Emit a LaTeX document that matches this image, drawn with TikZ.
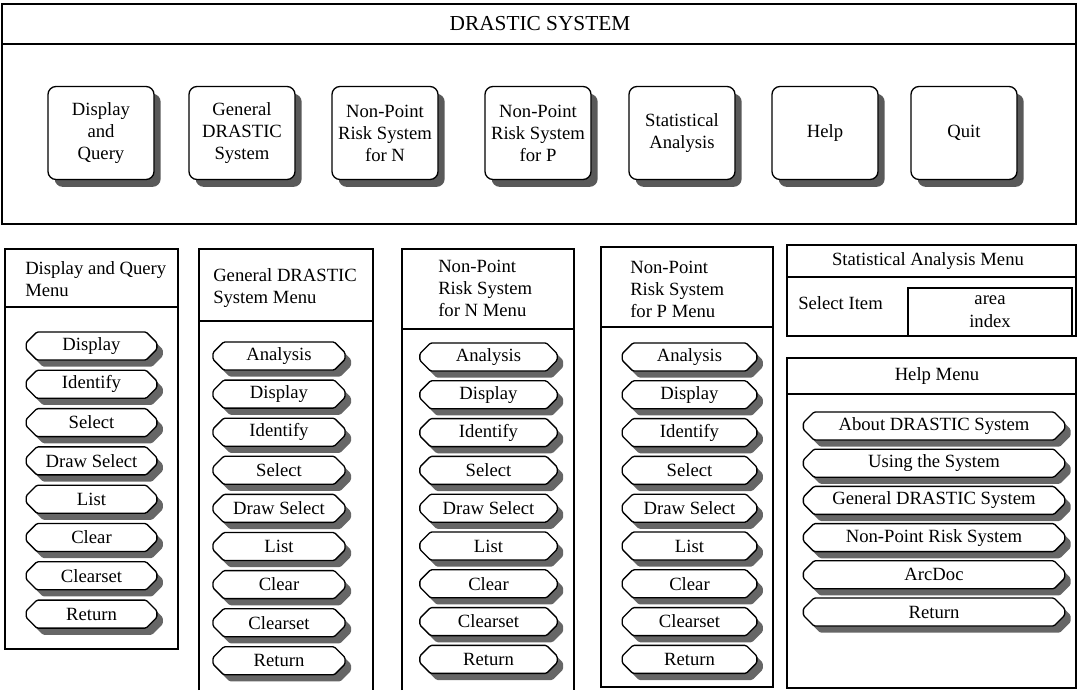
\documentclass[tikz,border=0pt]{standalone}
\usepackage{fontspec}
\setmainfont{Liberation Serif}
\usetikzlibrary{positioning, shapes.misc, shadows}

\tikzset{
  txt/.style={font=\fontsize{14}{16.5}\selectfont},
  mainbtn/.style={txt, draw, fill=white, line width=1pt, rounded corners=6pt,
    minimum width=79.5pt, minimum height=69.75pt, align=center, inner sep=1pt,
    drop shadow={shadow xshift=5pt, shadow yshift=-5.5pt, fill=black!65, opacity=1}},
  itembtn/.style={txt, draw, fill=white, line width=1pt, chamfered rectangle,
    chamfered rectangle xsep=4pt, chamfered rectangle ysep=4pt, rounded corners=1pt,
    minimum height=21pt, inner sep=0pt,
    drop shadow={shadow xshift=4.5pt, shadow yshift=-5pt, fill=black!60, opacity=1}},
  panel/.style={draw, line width=0.8pt},
  menuhead/.style={txt, align=left, anchor=north west, inner sep=0pt},
}

\begin{document}
\begin{tikzpicture}[x=0.75pt, y=-0.75pt]
    \useasboundingbox (0,0) rectangle (1078,690);

    % --- Main window ---
    \draw[panel] (2,4) rectangle (1076,224);
    \draw[panel] (2,44) -- (1076,44);
    \node[txt, font=\fontsize{16}{19}\selectfont] (title) at (540,24) {DRASTIC SYSTEM};

    \node[mainbtn] (bDQ) at (101,133) {Display\\and\\Query};
    \node[mainbtn] (bGD) at (242,133) {General\\DRASTIC\\System};
    \node[mainbtn] (bNPN) at (385,133) {Non-Point\\Risk System\\for N};
    \node[mainbtn] (bNPP) at (538,133) {Non-Point\\Risk System\\for P};
    \node[mainbtn] (bSA) at (682,133) {Statistical\\Analysis};
    \node[mainbtn] (bHelp) at (825,133) {Help};
    \node[mainbtn] (bQuit) at (964,133) {Quit};

    % --- Display and Query menu ---
    \draw[panel] (5,249) rectangle (178,649);
    \draw[panel] (5,307) -- (178,307);
    \node[menuhead] (hDQ) at (25,261) {Display and Query\\Menu};
    \foreach \lbl [count=\i] in {Display, Identify, Select, Draw Select, List, Clear, Clearset, Return}
        \node[itembtn, minimum width=98pt] (dq-\i) at (91.5, {346+38.3*(\i-1)}) {\lbl};

    % --- General DRASTIC menu ---
    \draw[panel] (199,690) -- (199,249) -- (373,249) -- (373,690);
    \draw[panel] (199,321) -- (373,321);
    \node[menuhead] (hGD) at (213,268) {General DRASTIC\\System Menu};
    \foreach \lbl [count=\i] in {Analysis, Display, Identify, Select, Draw Select, List, Clear, Clearset, Return}
        \node[itembtn, minimum width=99pt] (gd-\i) at (279, {356+38.1*(\i-1)}) {\lbl};

    % --- Non-Point N menu ---
    \draw[panel] (402,690) -- (402,249) -- (574,249) -- (574,690);
    \draw[panel] (402,329) -- (574,329);
    \node[menuhead] (hNPN) at (438,260) {Non-Point\\Risk System\\for N Menu};
    \foreach \lbl [count=\i] in {Analysis, Display, Identify, Select, Draw Select, List, Clear, Clearset, Return}
        \node[itembtn, minimum width=103pt] (npn-\i) at (488.5, {357+37.8*(\i-1)}) {\lbl};

    % --- Non-Point P menu ---
    \draw[panel] (601,247) rectangle (773,687);
    \draw[panel] (601,327) -- (773,327);
    \node[menuhead] (hNPP) at (630,261) {Non-Point\\Risk System\\for P Menu};
    \foreach \lbl [count=\i] in {Analysis, Display, Identify, Select, Draw Select, List, Clear, Clearset, Return}
        \node[itembtn, minimum width=101pt] (npp-\i) at (689.5, {357+37.8*(\i-1)}) {\lbl};

    % --- Statistical Analysis menu ---
    \draw[panel] (787,245) rectangle (1076,336);
    \draw[panel] (787,277) -- (1076,277);
    \node[txt] (hSA) at (928,261) {Statistical Analysis Menu};
    \node[txt, anchor=west, inner sep=0pt] (selItem) at (798,303) {Select Item};
    \node[txt, draw, line width=0.8pt, align=center, inner sep=0pt, minimum width=123pt,
          minimum height=36pt, font=\fontsize{14}{17}\selectfont] (itemBox) at (990,312) {area\\index};

    % --- Help menu ---
    \draw[panel] (787,358) rectangle (1076,688);
    \draw[panel] (787,394) -- (1076,394);
    \node[txt] (hHelp) at (937,376) {Help Menu};
    \foreach \lbl [count=\i] in {About DRASTIC System, Using the System, General DRASTIC System, Non-Point Risk System, ArcDoc, Return}
        \node[itembtn, minimum width=196pt] (hlp-\i) at (934, {426+37.2*(\i-1)}) {\lbl};
\end{tikzpicture}
\end{document}
